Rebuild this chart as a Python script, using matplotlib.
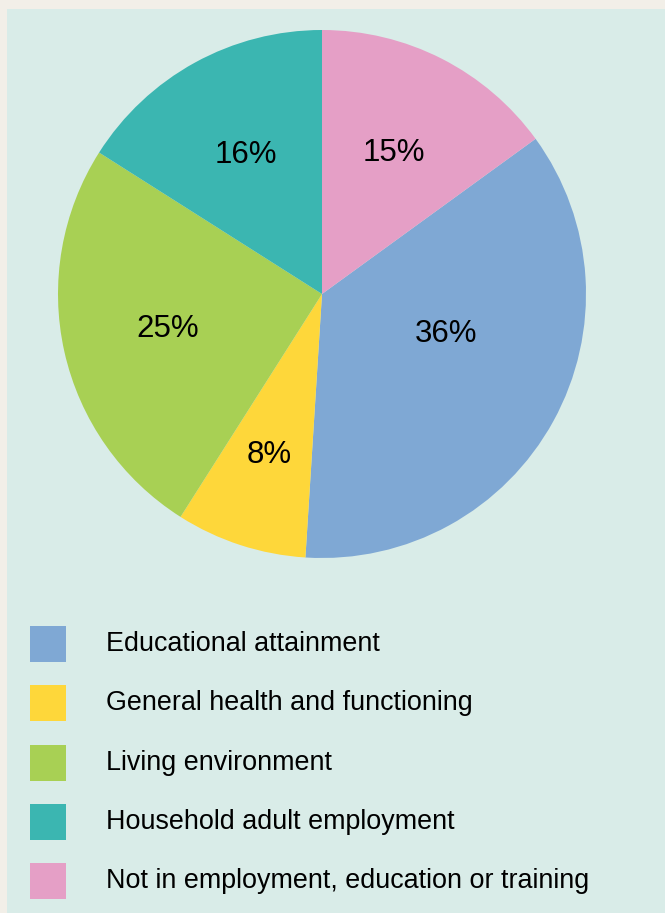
import matplotlib.pyplot as plt
from matplotlib.patches import Rectangle

# Data
categories = ["Educational attainment", "General health and functioning",
              "Living environment", "Household adult employment",
              "Not in employment, education or training"]
shares = [36, 8, 25, 16, 15]
colors = ["#7fa8d4", "#fed73a", "#a8d054", "#3bb6b1", "#e59fc6"]

plt.rcParams['font.family'] = ['Liberation Sans', 'DejaVu Sans']

W, H = 665, 913
fig = plt.figure(figsize=(W / 100, H / 100), dpi=100)
fig.patch.set_facecolor("#f2efe8")

# Light teal panel (behind everything)
fig.patches.append(Rectangle((7 / W, 0), 1, 1 - 9 / H, transform=fig.transFigure,
                             facecolor="#d9ece8", edgecolor="none", zorder=-10))

# Pie
cx, cy, r = 322, 294, 264
ax = fig.add_axes([(cx - r) / W, 1 - (cy + r) / H, 2 * r / W, 2 * r / H])
ax.set_zorder(5)
ax.patch.set_visible(False)
wedges, texts, autotexts = ax.pie(shares, colors=colors, startangle=90 - 360 * shares[-1] / 100,
                                  counterclock=False, radius=1,
                                  autopct=lambda p: f"{p:.0f}%", pctdistance=0.6,
                                  textprops={"fontsize": 22.5, "color": "black"},
                                  wedgeprops={"linewidth": 0})
# nudge a couple of labels like the original
autotexts[0].set_position((0.47, -0.15))
x8, y8 = autotexts[1].get_position()
autotexts[1].set_position((x8 * 1.07, y8 * 1.07))
ax.set_xlim(-1, 1)
ax.set_ylim(-1, 1)
ax.set_aspect("equal")
ax.axis("off")

# Legend
y0, pitch, sq = 644, 59.25, 36
for i, (lab, col) in enumerate(zip(categories, colors)):
    yc = y0 + i * pitch
    fig.patches.append(Rectangle((30 / W, 1 - (yc + sq / 2) / H), sq / W, sq / H,
                                 transform=fig.transFigure, facecolor=col,
                                 edgecolor="none", zorder=1))
    fig.text(106 / W, 1 - (yc + 7) / H, lab, fontsize=19.4, va="baseline",
             ha="left", color="black")

fig.savefig("out.png", dpi=100, facecolor=fig.get_facecolor())
